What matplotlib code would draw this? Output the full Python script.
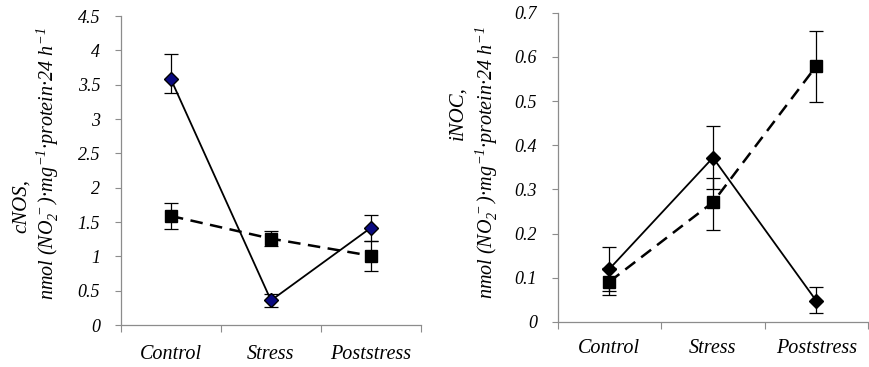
import numpy as np
import matplotlib
matplotlib.use("Agg")
import matplotlib.pyplot as plt
import matplotlib.ticker as ticker

plt.rcParams["font.family"] = ["Liberation Serif", "DejaVu Serif"]
plt.rcParams["font.style"] = "italic"
plt.rcParams["mathtext.fontset"] = "custom"
plt.rcParams["mathtext.rm"] = "Liberation Serif:italic"
plt.rcParams["mathtext.it"] = "Liberation Serif:italic"

categories = ["Control", "Stress", "Poststress"]

# cNOS panel
cnos_diamond = [3.58, 0.36, 1.42]
cnos_diamond_lo = [0.20, 0.09, 0.20]
cnos_diamond_hi = [0.37, 0.09, 0.19]
cnos_square = [1.59, 1.26, 1.01]
cnos_square_lo = [0.19, 0.11, 0.22]
cnos_square_hi = [0.19, 0.11, 0.21]
cnos_ticks = [0, 0.5, 1, 1.5, 2, 2.5, 3, 3.5, 4, 4.5]

# iNOC panel
inoc_diamond = [0.12, 0.372, 0.047]
inoc_diamond_lo = [0.06, 0.07, 0.027]
inoc_diamond_hi = [0.05, 0.072, 0.031]
inoc_square = [0.091, 0.271, 0.58]
inoc_square_lo = [0.02, 0.063, 0.083]
inoc_square_hi = [0.03, 0.054, 0.078]
inoc_ticks = [0, 0.1, 0.2, 0.3, 0.4, 0.5, 0.6, 0.7]

GRAY = "#8c8c8c"


def fmt_tick(v, pos=None):
    return f"{v:g}"


def draw_panel(ax, dia, dlo, dhi, sq, slo, shi, ticks, dia_color, xpad):
    x = np.arange(len(categories))
    ax.errorbar(x, sq, yerr=[slo, shi], fmt="none", ecolor="black",
                elinewidth=0.9, capsize=5, capthick=0.9, zorder=2)
    ax.errorbar(x, dia, yerr=[dlo, dhi], fmt="none", ecolor="black",
                elinewidth=0.9, capsize=5, capthick=0.9, zorder=2)
    ax.plot(x, sq, color="black", lw=1.8, ls=(0, (5, 3)), marker="s",
            ms=8.5, mfc="black", mec="black", zorder=3)
    ax.plot(x, dia, color="black", lw=1.3, ls="-", marker="D",
            ms=7.5, mfc=dia_color, mec="black", mew=1.0, zorder=4)

    ax.set_xlim(-0.5, len(categories) - 0.5)
    ax.set_ylim(ticks[0], ticks[-1])
    ax.set_yticks(ticks)
    ax.yaxis.set_major_formatter(ticker.FuncFormatter(fmt_tick))
    ax.set_xticks(np.arange(len(categories) + 1) - 0.5)
    ax.set_xticklabels([])
    ax.set_xticks(x, minor=True)
    ax.set_xticklabels(categories, minor=True, fontsize=14.5)
    ax.tick_params(axis="x", which="minor", length=0, pad=xpad)
    ax.tick_params(axis="x", which="major", length=5, color=GRAY, width=0.8)
    ax.tick_params(axis="y", length=4, color=GRAY, width=0.8, labelsize=13, pad=11)
    for s in ("top", "right"):
        ax.spines[s].set_visible(False)
    for s in ("left", "bottom"):
        ax.spines[s].set_color(GRAY)
        ax.spines[s].set_linewidth(0.9)


fig = plt.figure(figsize=(8.7, 3.67), dpi=100)
ax1 = fig.add_axes([0.139, 0.114, 0.345, 0.842])
ax2 = fig.add_axes([0.641, 0.123, 0.357, 0.842])

draw_panel(ax1, cnos_diamond, cnos_diamond_lo, cnos_diamond_hi,
           cnos_square, cnos_square_lo, cnos_square_hi, cnos_ticks, "#0a0a80", 14)
draw_panel(ax2, inoc_diamond, inoc_diamond_lo, inoc_diamond_hi,
           inoc_square, inoc_square_lo, inoc_square_hi, inoc_ticks, "black", 12)

unit = r"$nmol\ (NO_2^{\,-})$·$mg^{-1}$·$protein$·$24\ h^{-1}$"
fig.text(21 / 870, 1 - 206 / 367, "cNOS,", rotation=90, ha="center", va="center", fontsize=15)
fig.text(48 / 870, 1 - 164 / 367, unit, rotation=90, ha="center", va="center", fontsize=14.5)
fig.text(458 / 870, 1 - 113 / 367, "iNOC,", rotation=90, ha="center", va="center", fontsize=15)
fig.text(487 / 870, 1 - 163 / 367, unit, rotation=90, ha="center", va="center", fontsize=14.5)

fig.savefig("out.png", dpi=100)
